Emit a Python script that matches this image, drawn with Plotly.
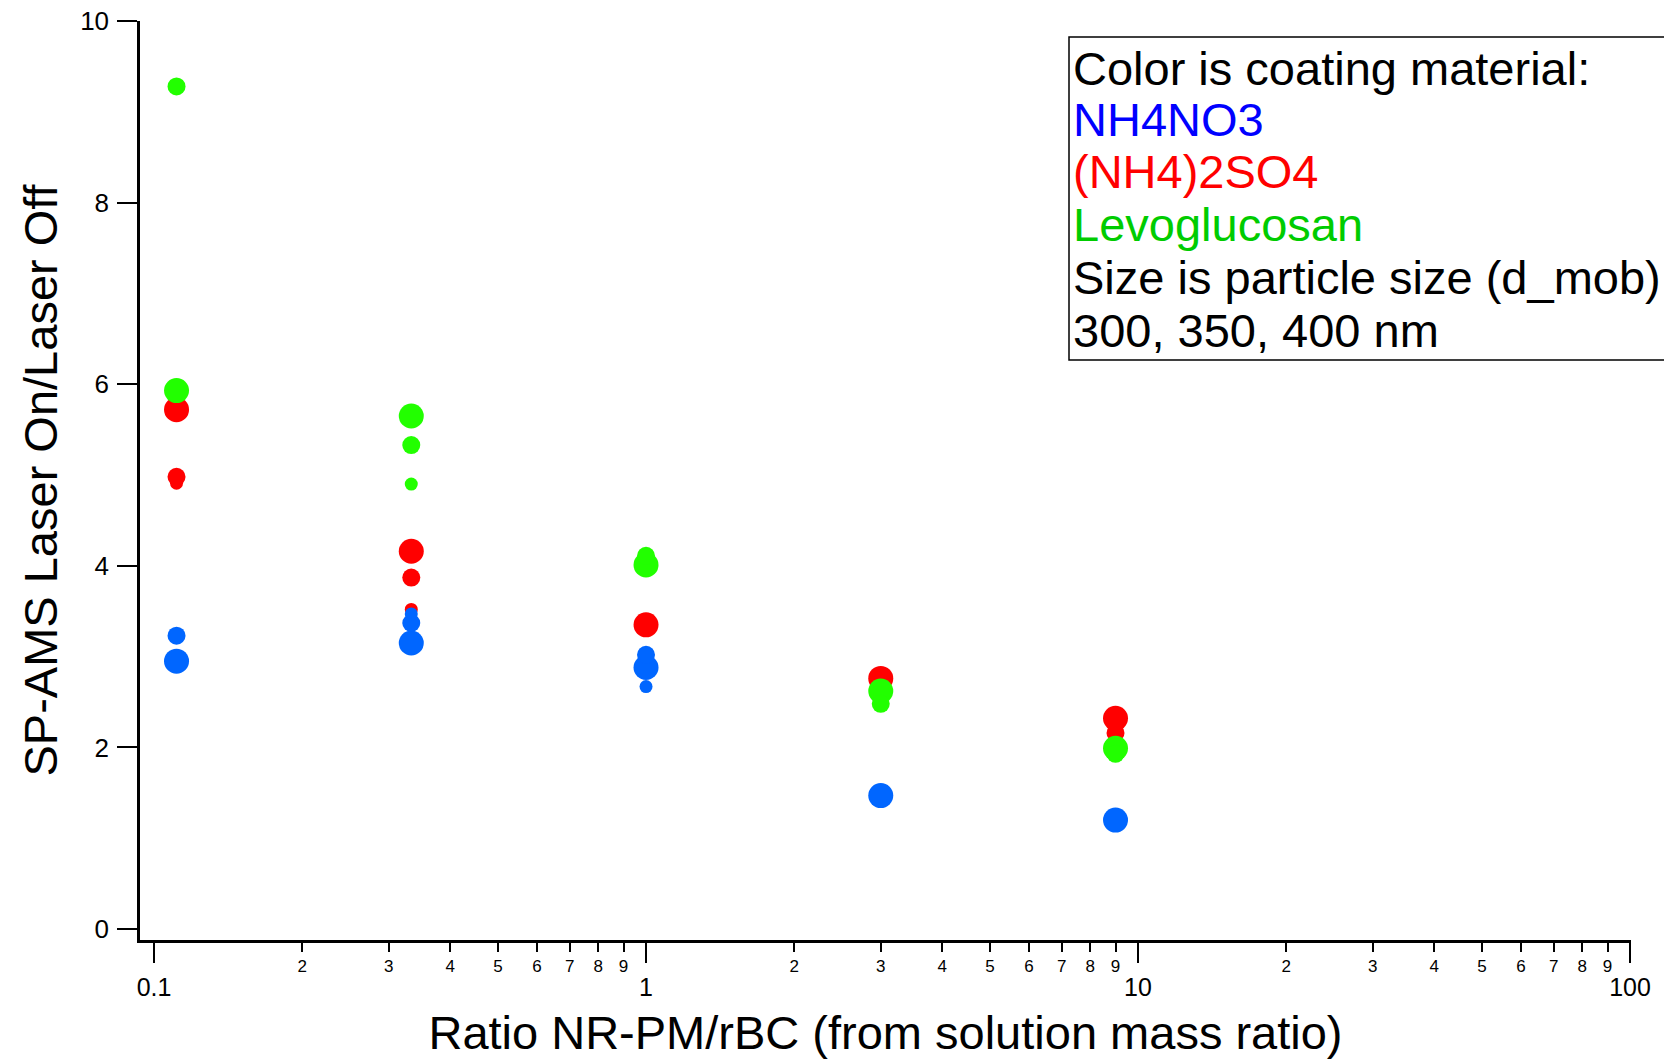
import plotly.graph_objects as go

# ---------------- data ----------------
ratio = [1 / 9, 1 / 3, 1, 3, 9]  # NR-PM/rBC (from solution mass ratio)

# SP-AMS Laser On / Laser Off, per coating and mobility diameter (None = no point)
nh4no3_300 = [None, 3.47, 2.67, None, None]
nh4no3_350 = [3.23, 3.37, 3.02, None, None]
nh4no3_400 = [2.95, 3.15, 2.88, 1.47, 1.20]

as_300 = [4.91, 3.52, None, None, None]
as_350 = [4.98, 3.87, None, None, 2.16]
as_400 = [5.72, 4.16, 3.35, 2.76, 2.32]

levo_300 = [None, 4.90, None, None, None]
levo_350 = [9.28, 5.33, 4.11, 2.48, 1.93]
levo_400 = [5.93, 5.65, 4.01, 2.62, 1.99]

y_ticks = [0, 2, 4, 6, 8, 10]
x_major_vals = [0.1, 1, 10, 100]
x_major_text = ["0.1", "1", "10", "100"]
decades = [0.1, 1, 10]
minor_digits = ["2", "3", "4", "5", "6", "7", "8", "9"]

legend_lines = [
    "Color is coating material:",
    "NH4NO3",
    "(NH4)2SO4",
    "Levoglucosan",
    "Size is particle size (d_mob)",
    "300, 350, 400 nm",
]

# ---------------- styles ----------------
FONT = "Liberation Sans, Arial, sans-serif"
marker_px = {300: 13, 350: 18, 400: 25}
marker_col = {"NH4NO3": "#0066FF", "(NH4)2SO4": "#FF0000", "Levoglucosan": "#22FF00"}
text_col = ["#000000", "#0000FF", "#FF0000", "#00CC00", "#000000", "#000000"]

series = [
    ("(NH4)2SO4", 400, as_400), ("(NH4)2SO4", 350, as_350), ("(NH4)2SO4", 300, as_300),
    ("NH4NO3", 400, nh4no3_400), ("NH4NO3", 350, nh4no3_350), ("NH4NO3", 300, nh4no3_300),
    ("Levoglucosan", 400, levo_400), ("Levoglucosan", 350, levo_350), ("Levoglucosan", 300, levo_300),
]

fig = go.Figure()
for mat, d, vals in series:
    fig.add_trace(go.Scatter(
        x=ratio, y=vals, mode="markers", name=f"{mat} {d} nm",
        marker=dict(size=marker_px[d], color=marker_col[mat], line=dict(width=0)),
        showlegend=False, cliponaxis=False,
    ))

minor_vals = [dec * int(t) for dec in decades for t in minor_digits]
minor_text = [t for dec in decades for t in minor_digits]

xrange = [-1.0285, 2.002]

fig.update_layout(
    width=1664, height=1059,
    margin=dict(l=140, r=33, t=21, b=119),
    paper_bgcolor="white", plot_bgcolor="white",
    font=dict(family=FONT, color="black"),
    xaxis=dict(
        type="log", range=xrange,
        tickmode="array", tickvals=x_major_vals, ticktext=x_major_text,
        ticks="outside", ticklen=20, tickwidth=2, tickcolor="black",
        tickfont=dict(size=25, family=FONT), ticklabelstandoff=3,
        showline=True, linewidth=2.5, linecolor="black",
        showgrid=False, zeroline=False, automargin=False,
        title=dict(text="Ratio NR-PM/rBC (from solution mass ratio)",
                   font=dict(size=47, family=FONT), standoff=18),
    ),
    xaxis2=dict(
        type="log", range=xrange, overlaying="x", anchor="y", side="bottom",
        tickmode="array", tickvals=minor_vals, ticktext=minor_text,
        ticks="outside", ticklen=11, tickwidth=2, tickcolor="black",
        tickfont=dict(size=17, family=FONT), ticklabelstandoff=0,
        showline=False, showgrid=False, zeroline=False, automargin=False,
    ),
    yaxis=dict(
        range=[-0.121, 10], tickmode="array", tickvals=y_ticks,
        ticks="outside", ticklen=20, tickwidth=2.3, tickcolor="black",
        tickfont=dict(size=26, family=FONT), ticklabelstandoff=3,
        showline=True, linewidth=2.5, linecolor="black",
        showgrid=False, zeroline=False, automargin=False,
        title=dict(text="SP-AMS Laser On/Laser Off",
                   font=dict(size=47, family=FONT), standoff=8),
    ),
)

# dummy trace to activate xaxis2
fig.add_trace(go.Scatter(x=[ratio[0]], y=[None], xaxis="x2", yaxis="y",
                         mode="markers", showlegend=False, hoverinfo="skip"))

# legend box (extends past the right edge, as in the original)
plot_l, plot_r, plot_t, plot_b = 140, 1631, 21, 940
pw, ph = plot_r - plot_l, plot_b - plot_t

def px_x(X):
    return (X - plot_l) / pw

def px_y(Y):
    return (plot_b - Y) / ph

fig.add_shape(type="rect", xref="paper", yref="paper",
              x0=px_x(1069), x1=px_x(1700), y0=px_y(360), y1=px_y(37),
              line=dict(color="black", width=1.5), fillcolor="rgba(0,0,0,0)",
              layer="above")

line_centres = [68, 120, 172, 225, 277, 330]
for txt, col, yc in zip(legend_lines, text_col, line_centres):
    fig.add_annotation(text=txt, xref="paper", yref="paper",
                       x=px_x(1072), y=px_y(yc), xanchor="left", yanchor="middle",
                       showarrow=False, font=dict(size=47, color=col, family=FONT),
                       borderpad=0)

fig.write_html("out.html")
